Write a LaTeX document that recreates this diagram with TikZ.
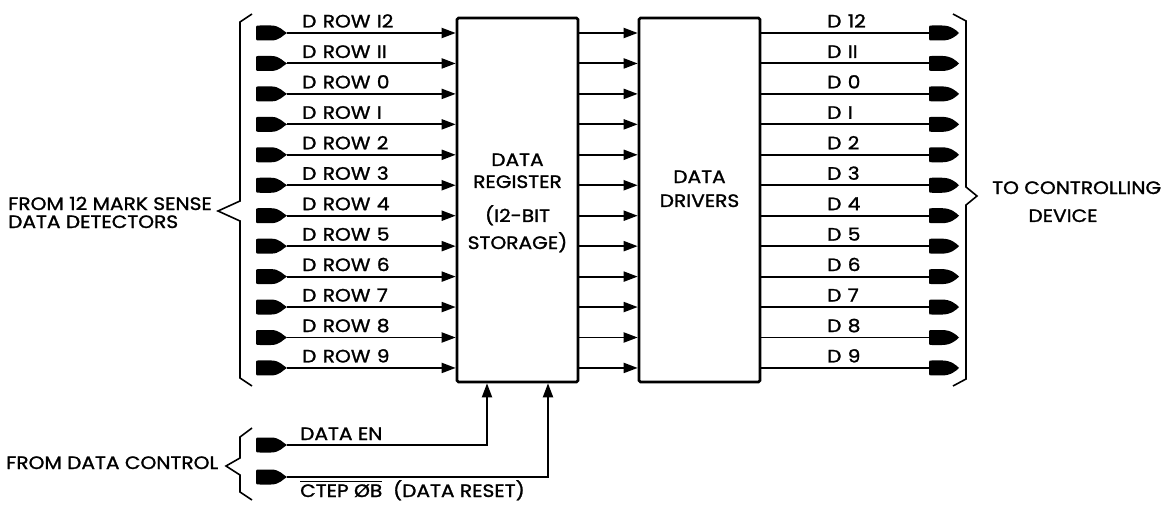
\documentclass[tikz,border=0pt]{standalone}
\usepackage{fontspec}
\setmainfont{Poppins}[FakeBold=1.3,FakeStretch=1.12]
\usetikzlibrary{arrows.meta}
\newcommand{\ovl}[1]{\leavevmode\vbox{\hrule height 1.4pt\kern 2pt\hbox{#1}}}
\begin{document}
\begin{tikzpicture}[x=1pt,y=-1pt,
  box/.style={draw, line width=2.6pt, rounded corners=1.5pt, minimum width=121pt, minimum height=364pt, inner sep=0pt},
  sig/.style={line width=1.9pt},
  arr/.style={sig, -{Triangle[length=14pt,width=10pt]}},
  lbl/.style={font=\fontsize{18}{20}\selectfont, inner sep=0pt, anchor=base west},
  clbl/.style={font=\fontsize{18}{20}\selectfont, inner sep=0pt, anchor=base},
  brace/.style={line width=1.6pt, line join=miter},
  inplug/.pic={\fill (-31,-4) .. controls (-31,-7.5) .. (-27,-7.5) -- (-16,-7.5) .. controls (-7,-7.5) and (-4,-2) .. (0,0) .. controls (-4,2) and (-7,7.5) .. (-16,7.5) -- (-27,7.5) .. controls (-31,7.5) .. (-31,4) -- cycle;},
  outplug/.pic={\fill (0,-5) .. controls (0,-7.5) .. (3,-7.5) -- (13,-7.5) .. controls (22,-7.5) and (27,-3) .. (30,0) .. controls (27,3) and (22,7.5) .. (13,7.5) -- (3,7.5) .. controls (0,7.5) .. (0,5) -- cycle;}]
\useasboundingbox (0,0) rectangle (1173,508);
\fill[white] (0,0) rectangle (1173,508);
% boxes
\node[box] (reg) at (517.5,200) {};
\node[box] (drv) at (699.5,200) {};
\node[clbl] (rt1) at (517.5,166) {DATA};
\node[clbl] (rt2) at (517.5,188) {REGISTER};
\node[clbl] (rt3) at (517.5,222) {(I2-BIT};
\node[clbl] (rt4) at (517.5,249) {STORAGE)};
\node[clbl] (dt1) at (699.5,183) {DATA};
\node[clbl] (dt2) at (699.5,207) {DRIVERS};
% rows
\foreach \lab/\rlab [count=\i from 0] in {I2/12,II/II,0/0,I/I,2/2,3/3,4/4,5/5,6/6,7/7,8/8,9/9} {
  \pgfmathsetmacro\yy{33+30.45*\i}
  \coordinate (in\i) at (287,\yy);
  \coordinate (out\i) at (929,\yy);
  \pic at (in\i) {inplug};
  \draw[arr] (in\i) -- (reg.west |- in\i);
  \node[lbl] (li\i) at (302,\yy-5.5) {D\hspace{0.35em}ROW\hspace{0.35em}\lab};
  \draw[arr] (reg.east |- in\i) -- (drv.west |- in\i);
  \draw[sig] (drv.east |- in\i) -- (out\i);
  \pic at (out\i) {outplug};
  \node[lbl] (lo\i) at (827,\yy-5.5) {D\hspace{0.35em}\rlab};
}
% control inputs
\coordinate (en) at (287,445);
\coordinate (rst) at (287,477);
\pic at (en) {inplug};
\pic at (rst) {inplug};
\draw[arr] (en) -| ([xshift=-30.5pt]reg.south);
\draw[arr] (rst) -| ([xshift=30.5pt]reg.south);
\node[lbl] (den) at (300,440) {DATA EN};
\node[lbl] (drs) at (300,497) {\ovl{CTEP ØB}\hspace{0.6em}(DATA RESET)};
% braces
\draw[brace] (252,14) -- (240,22) -- (240,201) -- (218,211) -- (240,221) -- (240,378) -- (252,386);
\draw[brace] (953,14) -- (966,21) -- (966,187) -- (977,196) -- (966,205) -- (966,379) -- (953,386);
\draw[brace] (252,428) -- (240,437) -- (240,458) -- (226,466) -- (240,475) -- (240,492) -- (252,500);
% side texts
\node[lbl] (from1) at (8,210) {FROM 12 MARK SENSE};
\node[lbl] (from2) at (8,228) {DATA DETECTORS};
\node[lbl] (to1) at (992,194) {TO CONTROLLING};
\node[clbl] (to2) at (1063,222) {DEVICE};
\node[lbl] (fdc) at (6,469) {FROM DATA CONTROL};
\end{tikzpicture}
\end{document}
